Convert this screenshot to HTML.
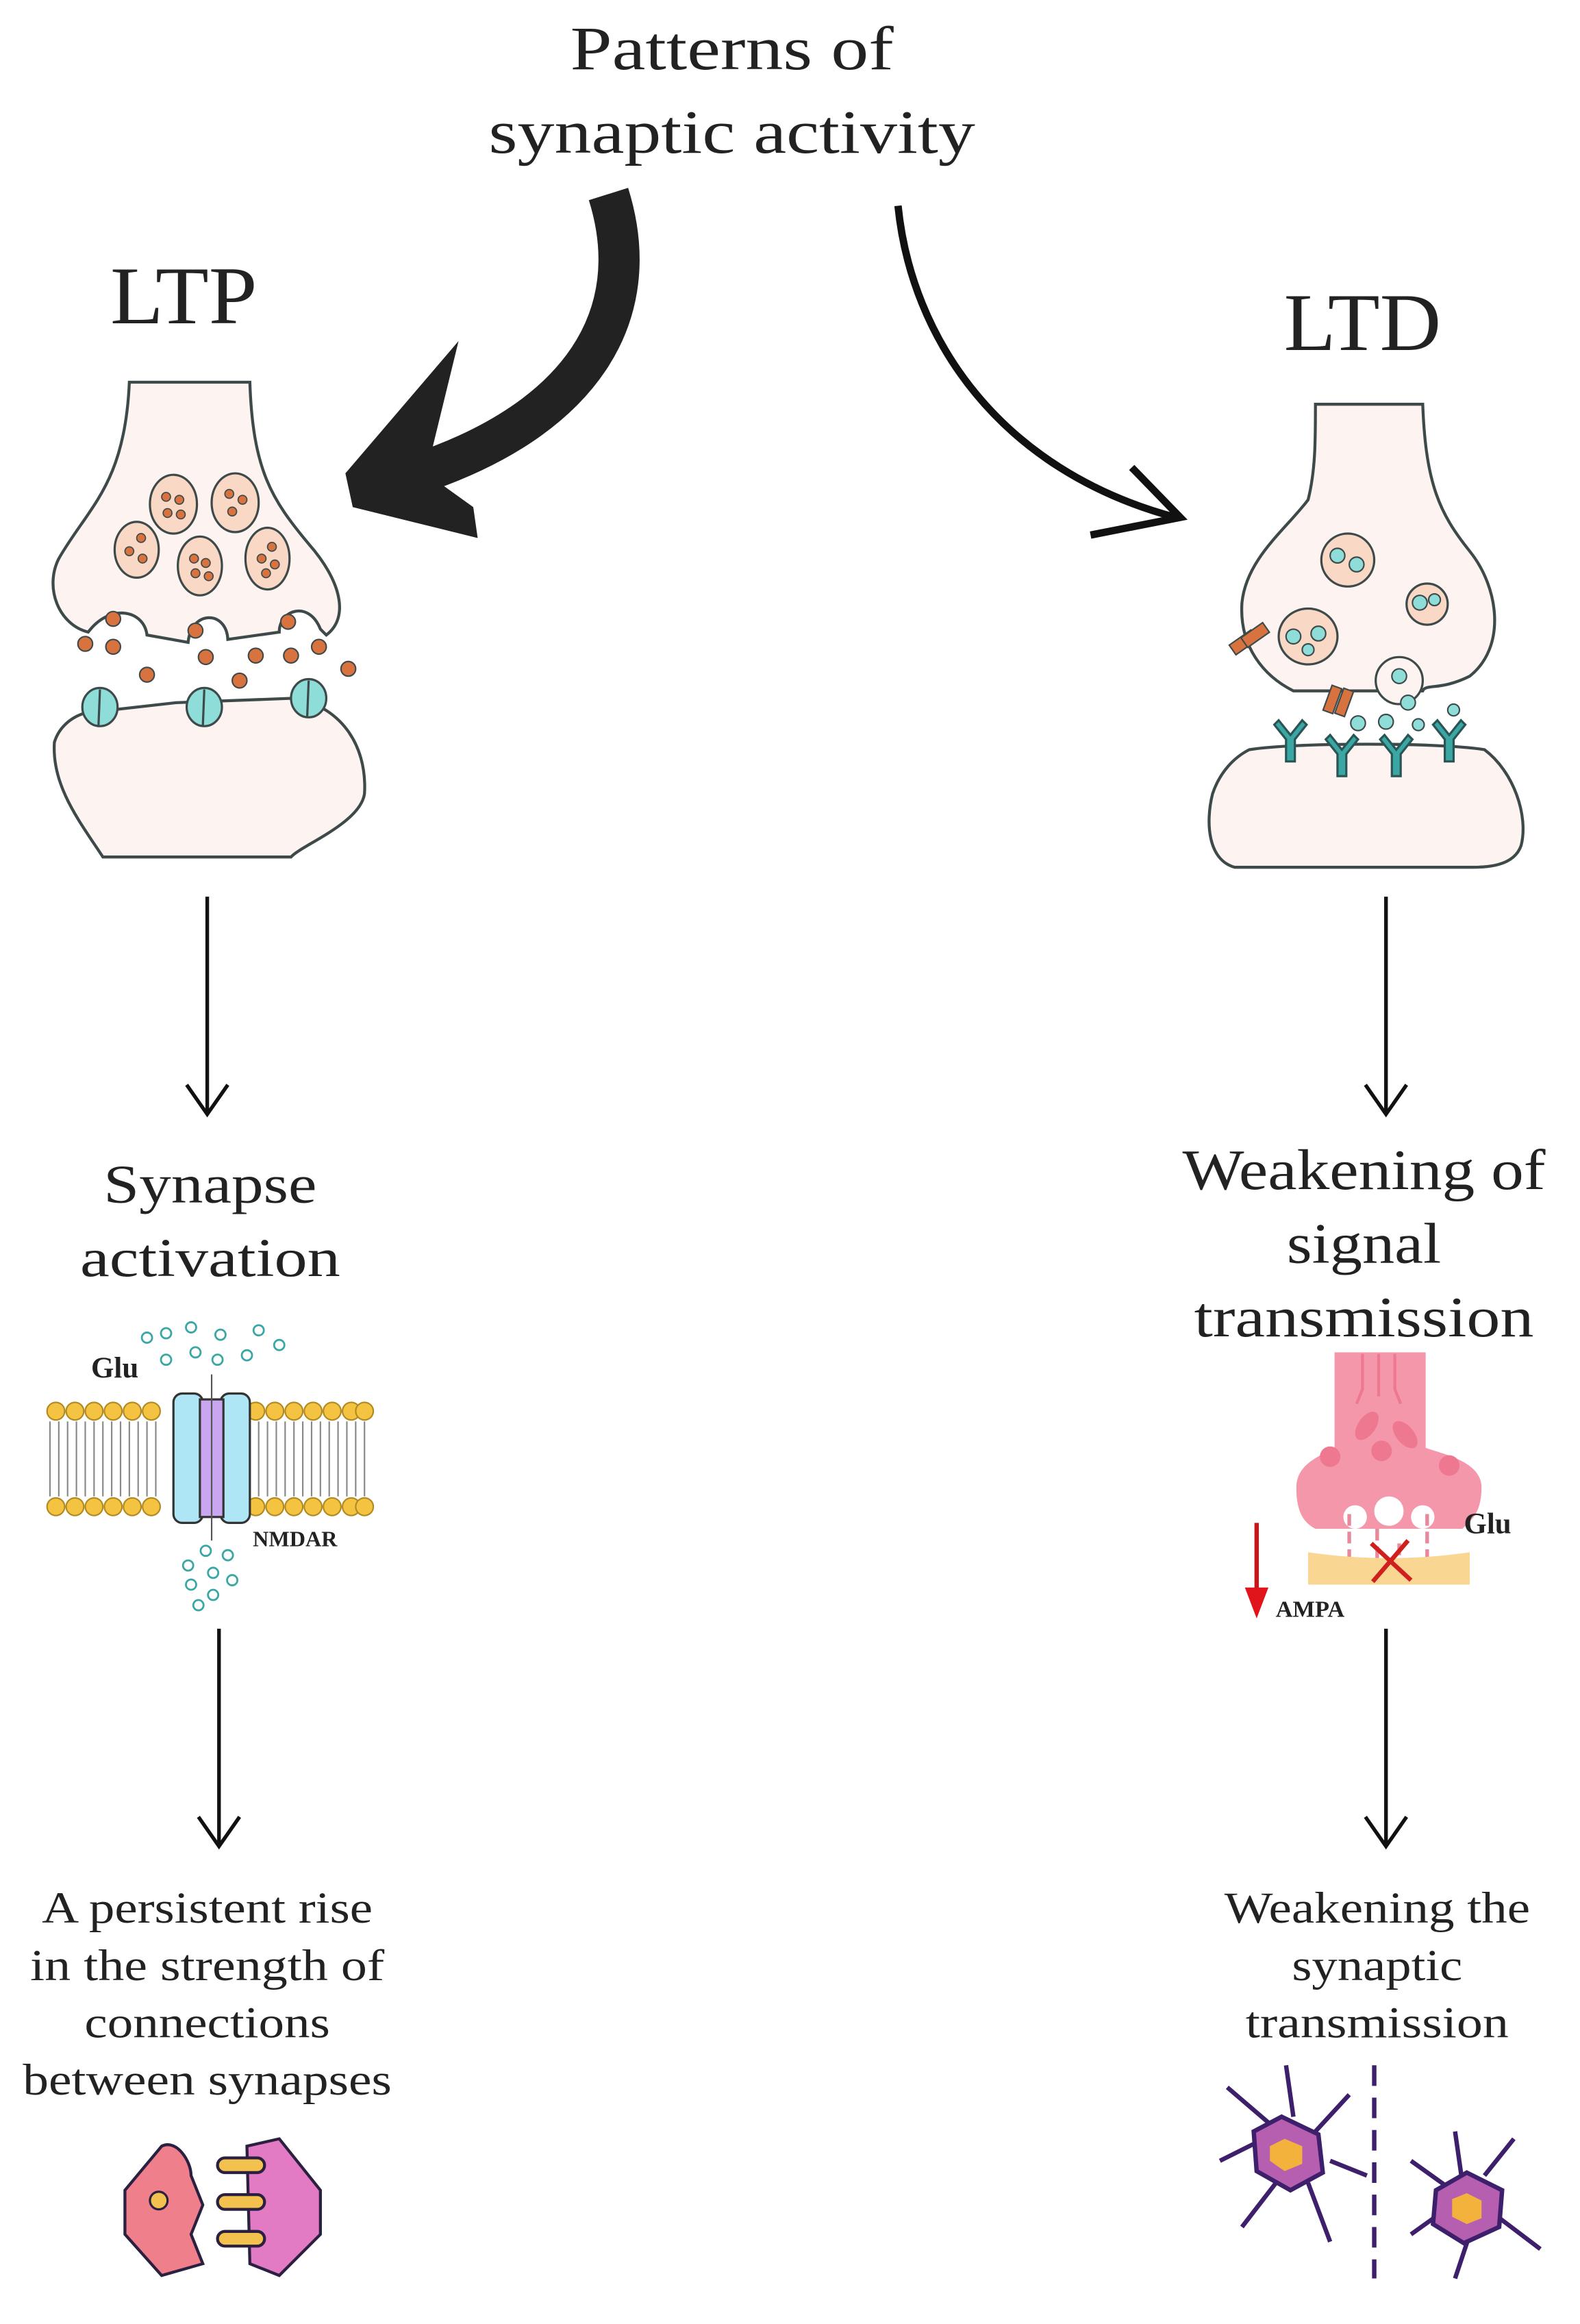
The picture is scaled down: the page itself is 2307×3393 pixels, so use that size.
<!DOCTYPE html>
<html><head><meta charset="utf-8"><style>
html,body{margin:0;padding:0;background:#fff}
svg{display:block}
text{font-family:"Liberation Serif",serif;fill:#222}
</style></head><body>
<svg width="2307" height="3393" viewBox="0 0 1075 1581" preserveAspectRatio="none" xmlns="http://www.w3.org/2000/svg">
<rect width="1075" height="1581" fill="#fff"/>
<g text-anchor="middle" lengthAdjust="spacingAndGlyphs">
<text x="498" y="47" font-size="42" textLength="220" lengthAdjust="spacingAndGlyphs">Patterns of</text>
<text x="498" y="104" font-size="42" textLength="331" lengthAdjust="spacingAndGlyphs">synaptic activity</text>
<text x="125" y="220" font-size="56" textLength="100" lengthAdjust="spacingAndGlyphs">LTP</text>
<text x="927" y="238" font-size="56" textLength="107" lengthAdjust="spacingAndGlyphs">LTD</text>
<text x="143" y="818" font-size="37" textLength="145" lengthAdjust="spacingAndGlyphs">Synapse</text>
<text x="143" y="868" font-size="37" textLength="177" lengthAdjust="spacingAndGlyphs">activation</text>
<text x="928" y="809" font-size="39" textLength="247" lengthAdjust="spacingAndGlyphs">Weakening of</text>
<text x="928" y="859" font-size="39" textLength="105" lengthAdjust="spacingAndGlyphs">signal</text>
<text x="928" y="909" font-size="39" textLength="231" lengthAdjust="spacingAndGlyphs">transmission</text>
<text x="141" y="1308" font-size="30" textLength="225" lengthAdjust="spacingAndGlyphs">A persistent rise</text>
<text x="141" y="1347" font-size="30" textLength="241" lengthAdjust="spacingAndGlyphs">in the strength of</text>
<text x="141" y="1386" font-size="30" textLength="167" lengthAdjust="spacingAndGlyphs">connections</text>
<text x="141" y="1425" font-size="30" textLength="251" lengthAdjust="spacingAndGlyphs">between synapses</text>
<text x="937" y="1308" font-size="30" textLength="208" lengthAdjust="spacingAndGlyphs">Weakening the</text>
<text x="937" y="1347" font-size="30" textLength="116" lengthAdjust="spacingAndGlyphs">synaptic</text>
<text x="937" y="1386" font-size="30" textLength="179" lengthAdjust="spacingAndGlyphs">transmission</text>
</g>
<!-- big black arrow -->
<path d="M414,132 C440,215 395,285 285,322" fill="none" stroke="#222" stroke-width="28"/>
<path d="M312,232 L235,322 L240,345 L325,366 L322,345 L290,322 Z" fill="#222"/>
<!-- thin right arrow -->
<path d="M611,140 C620,230 680,320 800,352" fill="none" stroke="#111" stroke-width="5"/>
<path d="M770,318 L803,352 L742,364" fill="none" stroke="#111" stroke-width="5"/>
<!-- vertical arrows -->
<g stroke="#111" stroke-width="2.5" fill="none">
<line x1="141" y1="610" x2="141" y2="758"/><path d="M127,738 L141,758 L155,738"/>
<line x1="149" y1="1108" x2="149" y2="1256"/><path d="M135,1236 L149,1256 L163,1236"/>
<line x1="943" y1="610" x2="943" y2="758"/><path d="M929,738 L943,758 L957,738"/>
<line x1="943" y1="1108" x2="943" y2="1256"/><path d="M929,1236 L943,1256 L957,1236"/>
</g>
<!-- LTP synapse -->
<g stroke="#3e4a4a" stroke-width="2" fill="#fdf3f0">
<path d="M88,260 L170,260 C172,320 185,340 210,370 C232,395 238,420 222,432 L218,428 C210,408 190,415 190,430 L155,435 C154,415 130,415 128,437 L100,432 C98,415 75,410 60,430 C40,425 30,400 40,380 C60,345 85,330 88,260Z"/>
<path d="M58,485 L120,478 L200,475 C230,480 250,505 248,540 C245,560 205,575 198,583 L70,583 C55,560 35,535 37,505 C40,495 48,488 58,485Z"/>
</g>
<g stroke="#3e4a4a" stroke-width="1.5" fill="#f9d8c6">
<ellipse cx="118" cy="343" rx="16" ry="20"/><ellipse cx="160" cy="342" rx="16" ry="20"/>
<ellipse cx="93" cy="374" rx="15" ry="19"/><ellipse cx="136" cy="385" rx="15" ry="20"/><ellipse cx="182" cy="380" rx="15" ry="21"/>
</g>
<g fill="#d8733f" stroke="#3e4a4a" stroke-width="0.8">
<circle cx="113" cy="338" r="3"/><circle cx="122" cy="340" r="3"/><circle cx="114" cy="349" r="3"/><circle cx="123" cy="350" r="3"/>
<circle cx="156" cy="336" r="3"/><circle cx="165" cy="340" r="3"/><circle cx="158" cy="348" r="3"/>
<circle cx="96" cy="366" r="3"/><circle cx="88" cy="375" r="3"/><circle cx="97" cy="380" r="3"/>
<circle cx="132" cy="380" r="3"/><circle cx="140" cy="383" r="3"/><circle cx="133" cy="390" r="3"/><circle cx="142" cy="392" r="3"/>
<circle cx="185" cy="372" r="3"/><circle cx="178" cy="380" r="3"/><circle cx="187" cy="384" r="3"/><circle cx="181" cy="390" r="3"/>
</g>
<g fill="#d8733f" stroke="#3e4a4a" stroke-width="1">
<circle cx="77" cy="421" r="5"/><circle cx="58" cy="438" r="5"/><circle cx="77" cy="440" r="5"/><circle cx="100" cy="459" r="5"/>
<circle cx="133" cy="429" r="5"/><circle cx="140" cy="447" r="5"/><circle cx="163" cy="463" r="5"/><circle cx="174" cy="446" r="5"/>
<circle cx="196" cy="423" r="5"/><circle cx="198" cy="446" r="5"/><circle cx="217" cy="440" r="5"/><circle cx="237" cy="455" r="5"/>
</g>
<g fill="#8fddd8" stroke="#3e4a4a" stroke-width="1.5">
<ellipse cx="68" cy="481" rx="12" ry="13"/><ellipse cx="139" cy="481" rx="12" ry="13"/><ellipse cx="210" cy="475" rx="12" ry="13"/>
</g>
<g stroke="#3e4a4a" stroke-width="1.5"><line x1="68" y1="469" x2="67" y2="494"/><line x1="139" y1="469" x2="138" y2="494"/><line x1="210" y1="463" x2="209" y2="488"/></g>
<!-- LTD synapse -->
<g stroke="#3e4a4a" stroke-width="2" fill="#fdf3f0">
<path d="M895,275 L968,275 C970,330 980,350 1000,375 C1020,400 1025,440 1000,460 C980,470 970,465 968,470 L880,470 C860,460 843,440 845,410 C848,380 875,360 890,340 C895,320 895,300 895,275Z"/>
<path d="M850,510 C880,505 980,505 1010,510 C1030,525 1040,555 1035,575 C1030,590 1010,590 1000,590 L840,590 C822,585 820,560 825,540 C830,525 840,515 850,510Z"/>
</g>
<g stroke="#3e4a4a" stroke-width="1.5" fill="#f9d8c6">
<ellipse cx="917" cy="381" rx="18" ry="18"/><ellipse cx="971" cy="411" rx="14" ry="14"/><ellipse cx="890" cy="433" rx="20" ry="19"/>
<ellipse cx="952" cy="463" rx="16" ry="16" fill="#fdf3f0"/>
</g>
<g fill="#8fddd8" stroke="#3e4a4a" stroke-width="1">
<circle cx="910" cy="378" r="5"/><circle cx="923" cy="384" r="5"/><circle cx="966" cy="410" r="5"/><circle cx="976" cy="408" r="4"/>
<circle cx="880" cy="433" r="5"/><circle cx="897" cy="431" r="5"/><circle cx="890" cy="442" r="4"/>
<circle cx="952" cy="460" r="5"/><circle cx="958" cy="478" r="5"/><circle cx="924" cy="492" r="5"/><circle cx="943" cy="491" r="5"/><circle cx="965" cy="493" r="4"/><circle cx="989" cy="483" r="4"/>
</g>
<g fill="#d8733f" stroke="#3e4a4a" stroke-width="1">
<rect x="842" y="428" width="8" height="18" transform="rotate(55 846 437)"/><rect x="850" y="423" width="8" height="18" transform="rotate(55 854 432)"/>
<rect x="903" y="467" width="7" height="18" transform="rotate(20 907 476)"/><rect x="911" y="469" width="7" height="18" transform="rotate(20 915 478)"/>
</g>
<g fill="#3aa7a4" stroke="#2b5555" stroke-width="1.5">
<path d="M870,490 l8,10 8,-10 3,3 -8,10 v15 h-6 v-15 l-8,-10z"/>
<path d="M905,500 l8,10 8,-10 3,3 -8,10 v15 h-6 v-15 l-8,-10z"/>
<path d="M942,500 l8,10 8,-10 3,3 -8,10 v15 h-6 v-15 l-8,-10z"/>
<path d="M978,490 l8,10 8,-10 3,3 -8,10 v15 h-6 v-15 l-8,-10z"/>
</g>
<!-- membrane -->
<g>
<g fill="#f5c342" stroke="#b08a20" stroke-width="1">
<circle cx="38" cy="960" r="6"/><circle cx="51" cy="960" r="6"/><circle cx="64" cy="960" r="6"/><circle cx="77" cy="960" r="6"/><circle cx="90" cy="960" r="6"/><circle cx="103" cy="960" r="6"/>
<circle cx="174" cy="960" r="6"/><circle cx="187" cy="960" r="6"/><circle cx="200" cy="960" r="6"/><circle cx="213" cy="960" r="6"/><circle cx="226" cy="960" r="6"/><circle cx="239" cy="960" r="6"/><circle cx="248" cy="960" r="6"/>
<circle cx="38" cy="1025" r="6"/><circle cx="51" cy="1025" r="6"/><circle cx="64" cy="1025" r="6"/><circle cx="77" cy="1025" r="6"/><circle cx="90" cy="1025" r="6"/><circle cx="103" cy="1025" r="6"/>
<circle cx="174" cy="1025" r="6"/><circle cx="187" cy="1025" r="6"/><circle cx="200" cy="1025" r="6"/><circle cx="213" cy="1025" r="6"/><circle cx="226" cy="1025" r="6"/><circle cx="239" cy="1025" r="6"/><circle cx="248" cy="1025" r="6"/>
</g>
<path d="M34,967 V1018 M40,967 V1018 M46,967 V1018 M52,967 V1018 M58,967 V1018 M64,967 V1018 M70,967 V1018 M76,967 V1018 M82,967 V1018 M88,967 V1018 M94,967 V1018 M100,967 V1018 M106,967 V1018 M176,967 V1018 M182,967 V1018 M188,967 V1018 M194,967 V1018 M200,967 V1018 M206,967 V1018 M212,967 V1018 M218,967 V1018 M224,967 V1018 M230,967 V1018 M236,967 V1018 M242,967 V1018 M248,967 V1018" stroke="#888" stroke-width="1"/>
<rect x="118" y="948" width="20" height="88" rx="6" fill="#aee6f5" stroke="#333" stroke-width="1.5"/>
<rect x="150" y="948" width="20" height="88" rx="6" fill="#aee6f5" stroke="#333" stroke-width="1.5"/>
<rect x="136" y="952" width="16" height="80" fill="#c9a6f0" stroke="#333" stroke-width="1.5"/>
<line x1="144" y1="935" x2="144" y2="1048" stroke="#555" stroke-width="1"/>
<g fill="none" stroke="#3aa7a4" stroke-width="1.3">
<circle cx="100" cy="910" r="3.5"/><circle cx="113" cy="907" r="3.5"/><circle cx="130" cy="903" r="3.5"/><circle cx="150" cy="908" r="3.5"/><circle cx="176" cy="905" r="3.5"/><circle cx="190" cy="915" r="3.5"/><circle cx="113" cy="925" r="3.5"/><circle cx="133" cy="920" r="3.5"/><circle cx="148" cy="925" r="3.5"/><circle cx="168" cy="922" r="3.5"/>
<circle cx="140" cy="1055" r="3.5"/><circle cx="155" cy="1058" r="3.5"/><circle cx="128" cy="1065" r="3.5"/><circle cx="145" cy="1070" r="3.5"/><circle cx="158" cy="1075" r="3.5"/><circle cx="130" cy="1078" r="3.5"/><circle cx="145" cy="1085" r="3.5"/><circle cx="135" cy="1092" r="3.5"/>
</g>
<text x="62" y="937" font-size="20" font-weight="bold">Glu</text>
<text x="172" y="1052" font-size="15" font-weight="bold">NMDAR</text>
</g>
<!-- pink synapse icon -->
<path d="M908,920 H970 V985 C985,990 1008,995 1008,1012 C1008,1030 1000,1035 995,1040 H895 C885,1035 882,1025 882,1012 C882,995 900,990 908,985Z" fill="#f597ab"/>
<g fill="none" stroke="#ef7891" stroke-width="2"><path d="M927,921 V945 L923,955"/><path d="M938,921 V950"/><path d="M949,921 V945 L953,955"/></g>
<g fill="#ef7891"><ellipse cx="930" cy="970" rx="6" ry="11" transform="rotate(35 930 970)"/><ellipse cx="956" cy="976" rx="6" ry="11" transform="rotate(-40 956 976)"/><circle cx="905" cy="991" r="7"/><circle cx="940" cy="987" r="7"/><circle cx="986" cy="997" r="7"/></g>
<g fill="#fff"><circle cx="922" cy="1032" r="8"/><circle cx="945" cy="1028" r="10"/><circle cx="968" cy="1032" r="8"/></g>
<g stroke="#e9889c" stroke-width="2.5" stroke-dasharray="8 4"><line x1="918" y1="1030" x2="918" y2="1068"/><line x1="937" y1="1040" x2="937" y2="1068"/><line x1="952" y1="1050" x2="952" y2="1068"/><line x1="971" y1="1030" x2="971" y2="1068"/></g>
<path d="M890,1056 Q945,1064 1000,1056 V1078 H890 Z" fill="#f9d793"/>
<path d="M933,1050 L960,1075 M958,1048 L934,1076" stroke="#d0201e" stroke-width="3"/>
<line x1="855" y1="1036" x2="855" y2="1082" stroke="#c5161b" stroke-width="3"/>
<path d="M847,1080 L863,1080 L855,1101Z" fill="#e0141a"/>
<text x="996" y="1043" font-size="20" font-weight="bold">Glu</text>
<text x="868" y="1100" font-size="16" font-weight="bold">AMPA</text>
<!-- LTP bottom icon -->
<path d="M85,1490 L110,1460 C120,1455 130,1470 130,1480 L138,1500 L130,1520 L138,1540 L110,1548 L85,1520Z" fill="#f07f8c" stroke="#2b2040" stroke-width="2"/>
<path d="M218,1490 L190,1455 L168,1460 L170,1540 L190,1548 L218,1520Z" fill="#e27bc3" stroke="#2b2040" stroke-width="2"/>
<g fill="#f2c14e" stroke="#2b2040" stroke-width="2"><rect x="148" y="1468" width="32" height="10" rx="5"/><rect x="148" y="1493" width="32" height="10" rx="5"/><rect x="148" y="1518" width="32" height="10" rx="5"/></g>
<circle cx="108" cy="1497" r="6" fill="#f2c14e" stroke="#2b2040" stroke-width="1.5"/>
<!-- neurons -->
<g stroke="#3d1f6b" stroke-width="3" fill="none">
<line x1="935" y1="1405" x2="935" y2="1550" stroke-dasharray="14 8"/>
<path d="M870,1450 L835,1420 M870,1450 L830,1470 M872,1480 L845,1515 M890,1485 L905,1525 M895,1450 L918,1425 M880,1440 L875,1405 M905,1470 L930,1480"/>
<path d="M995,1495 L960,1470 M995,1495 L960,1520 M1000,1520 L990,1550 M1015,1505 L1048,1530 M1010,1480 L1030,1455 M995,1485 L990,1450"/>
</g>
<polygon points="872,1440 897,1452 900,1478 878,1490 855,1477 853,1450" fill="#b65fb1" stroke="#3d1f6b" stroke-width="3"/>
<polygon points="874,1455 886,1460 886,1472 874,1477 864,1470 864,1460" fill="#f3b23c"/>
<polygon points="998,1478 1022,1490 1020,1515 996,1526 975,1513 977,1490" fill="#b65fb1" stroke="#3d1f6b" stroke-width="3"/>
<polygon points="998,1492 1008,1497 1008,1509 998,1513 988,1508 988,1496" fill="#f3b23c"/>
</svg>
</body></html>
